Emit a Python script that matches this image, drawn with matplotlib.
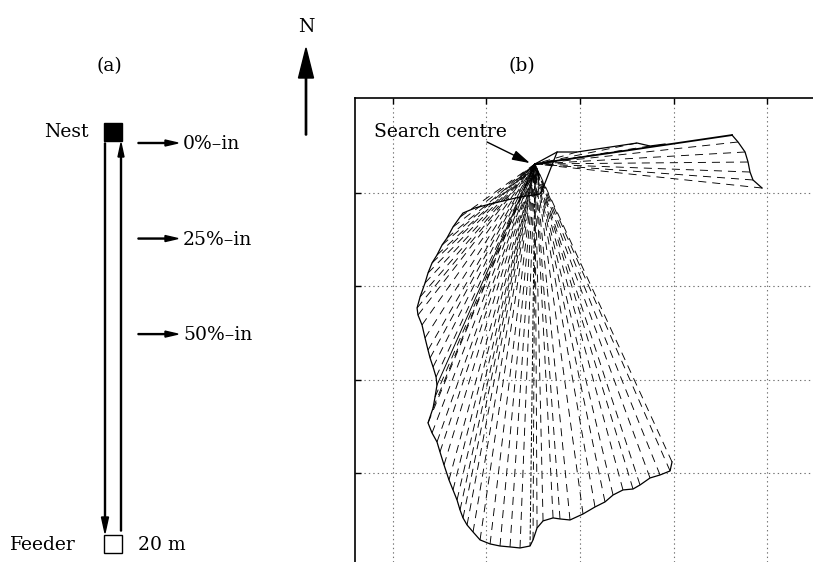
import matplotlib
matplotlib.use("Agg")
import matplotlib.pyplot as plt
from matplotlib.patches import Rectangle

plt.rcParams['font.family'] = ['DejaVu Serif']
plt.rcParams['lines.scale_dashes'] = False

# ---------------- data: panel (a) ----------------
route_length_m = 20
release_labels = ['0%\u2013in', '25%\u2013in', '50%\u2013in']
release_fracs = [0, 25, 50]

# ---------------- data: panel (b) (grid units) ----------------
centre_x, centre_y = 1.520, 4.307

# south fan boundary (end points of dashed rays), from SE edge round to NW
south_x = [2.984, 2.963, 2.856, 2.749, 2.642, 2.567, 2.460, 2.354, 2.268, 2.161,
           2.033, 1.894, 1.787, 1.713, 1.606, 1.542, 1.499, 1.467, 1.360, 1.253,
           1.146, 1.040, 0.933, 0.858, 0.794, 0.751, 0.719, 0.687, 0.644, 0.601,
           0.548, 0.505, 0.473, 0.420, 0.377, 0.431, 0.452, 0.473, 0.463, 0.431,
           0.399, 0.377, 0.345, 0.313, 0.270, 0.260, 0.292, 0.345, 0.377, 0.420,
           0.473, 0.527, 0.580, 0.644, 0.719]
south_y = [1.123, 1.027, 0.984, 0.952, 0.877, 0.834, 0.824, 0.770, 0.696, 0.642,
           0.567, 0.503, 0.514, 0.525, 0.493, 0.418, 0.290, 0.225, 0.204, 0.215,
           0.225, 0.247, 0.290, 0.375, 0.450, 0.525, 0.610, 0.717, 0.824, 0.931,
           1.091, 1.230, 1.337, 1.433, 1.540, 1.700, 1.817, 1.946, 2.031, 2.138,
           2.234, 2.319, 2.448, 2.587, 2.693, 2.768, 2.886, 3.035, 3.142, 3.249,
           3.334, 3.441, 3.516, 3.634, 3.740]

# upper boundary curve continuing from the south fan to the east fan
upper_x = [0.751, 0.879, 1.040, 1.221, 1.360, 1.574, 1.627, 1.756, 1.969, 2.610, 2.749, 2.909]
upper_y = [3.783, 3.837, 3.879, 3.922, 3.954, 3.986, 4.104, 4.435, 4.435, 4.531, 4.499, 4.520]

# east fan boundary (first point = tip of solid ray)
east_x = [3.625, 3.689, 3.764, 3.796, 3.817, 3.849, 3.946]
east_y = [4.616, 4.542, 4.435, 4.328, 4.221, 4.136, 4.050]

# special rays (index into south boundary)
solid_ray_idx = 37
fine_ray_idx = 17

# ---------------- figure ----------------
fig = plt.figure(figsize=(8.13, 5.62), dpi=100)

# panel (a) drawn in a pixel-like overlay
ax0 = fig.add_axes([0, 0, 1, 1])
ax0.set_xlim(0, 813)
ax0.set_ylim(562, 0)
ax0.axis('off')

fs = 13.5
nest_y, feeder_y = 132, 544
route_top, route_bot = 143, 533
lx, rx = 105, 121

ax0.add_patch(Rectangle((104, nest_y - 9), 18, 18, facecolor='k', edgecolor='k', lw=1))
ax0.add_patch(Rectangle((104, feeder_y - 9), 18, 18, facecolor='none', edgecolor='k', lw=1))
ax0.text(89, nest_y + 5, 'Nest', ha='right', va='baseline', fontsize=fs)
ax0.text(76, feeder_y + 6, 'Feeder', ha='right', va='baseline', fontsize=fs)
ax0.text(138, feeder_y + 6, f'{route_length_m} m', ha='left', va='baseline', fontsize=fs)

# outward (down) and inward (up) routes
ax0.arrow(lx, route_top, 0, route_bot - route_top, width=1.0, head_width=7,
          head_length=16, length_includes_head=True, color='k')
ax0.arrow(rx, route_bot - 2, 0, route_top - route_bot + 2, width=1.0, head_width=6,
          head_length=14, length_includes_head=True, color='k')

for lab, fr in zip(release_labels, release_fracs):
    yy = route_top + fr / 100 * (route_bot - route_top) * 0.98
    ax0.arrow(138, yy, 40, 0, width=1.0, head_width=6, head_length=13,
              length_includes_head=True, color='k')
    ax0.text(183, yy + 6, lab, ha='left', va='baseline', fontsize=fs)

ax0.text(109, 71, '(a)', ha='center', va='baseline', fontsize=fs)
ax0.text(522, 71, '(b)', ha='center', va='baseline', fontsize=fs)
ax0.text(306, 32, 'N', ha='center', va='baseline', fontsize=fs)
ax0.arrow(306, 135, 0, -87, width=1.3, head_width=15, head_length=30,
          length_includes_head=True, color='k')

# panel (b)
ax = fig.add_axes([355 / 813, 0, 458 / 813, (562 - 98) / 562])
ax.set_xlim(-0.403, 4.490)
ax.set_ylim(0.054, 5.012)
ax.set_xticks([0, 1, 2, 3, 4])
ax.set_yticks([1, 2, 3, 4])
ax.tick_params(direction='in', length=4, width=1, top=True, bottom=False,
               left=True, right=False, labelleft=False, labelbottom=False, labeltop=False)
for s in ['right', 'bottom']:
    ax.spines[s].set_visible(False)
for s in ['left', 'top']:
    ax.spines[s].set_linewidth(1.2)
ax.set_axisbelow(True)
ax.grid(True, color='0.45', linestyle=(0, (1, 2.2)), lw=0.8)

dash = (0, (5.8, 4.3))
ray_lw = 0.65
# rays drawn from the boundary point back to the search centre
for i, (bx, by) in enumerate(zip(south_x, south_y)):
    if i == fine_ray_idx:
        ax.plot([bx, centre_x], [by, centre_y], color='k', lw=0.7, ls=(0, (2.8, 1.4)))
    elif i == solid_ray_idx:
        ax.plot([bx, centre_x], [by, centre_y], color='k', lw=0.7)
    else:
        ax.plot([bx, centre_x], [by, centre_y], color='k', lw=ray_lw, ls=dash)
for bx, by in zip(east_x[1:], east_y[1:]):
    ax.plot([bx, centre_x], [by, centre_y], color='k', lw=ray_lw, ls=dash)
for bx, by in zip(upper_x[-4:-1], upper_y[-4:-1]):
    ax.plot([bx, centre_x], [by, centre_y], color='k', lw=ray_lw, ls=dash)

ax.plot(south_x + upper_x, south_y + upper_y, color='k', lw=0.9)
ax.plot(east_x, east_y, color='k', lw=0.9)
ax.plot([centre_x, east_x[0]], [centre_y, east_y[0]], color='k', lw=1.3)
ax.plot([centre_x, upper_x[7]], [centre_y, upper_y[7]], color='k', lw=0.9)

ax.text(-0.200, 4.595, 'Search centre', ha='left', va='baseline', fontsize=fs)
ax.annotate('', xy=(1.467, 4.316), xytext=(1.007, 4.542),
            arrowprops=dict(arrowstyle='-|>,head_length=0.9,head_width=0.25',
                            mutation_scale=12, lw=1.0, color='k',
                            shrinkA=0, shrinkB=0))

fig.savefig('out.png', dpi=100)
